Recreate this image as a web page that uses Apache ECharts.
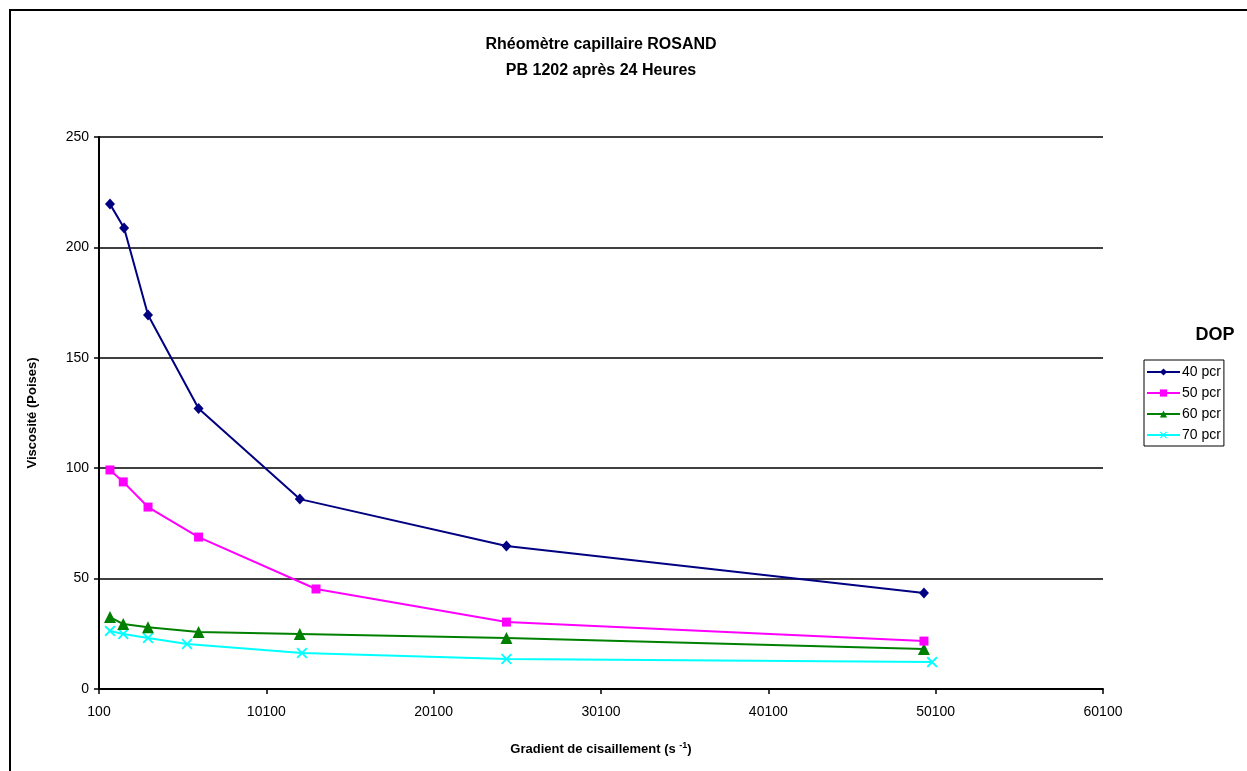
<!DOCTYPE html>
<html>
<head>
<meta charset="utf-8">
<script src="https://cdn.jsdelivr.net/npm/echarts@6/dist/echarts.min.js"></script>
<style>
html,body{margin:0;padding:0;background:#fff;}
#chart{width:1247px;height:771px;}
</style>
</head>
<body>
<div id="chart"></div>
<script>
// Data
const seriesNames = ['40 pcr', '50 pcr', '60 pcr', '70 pcr'];
const x40 = [757, 1600, 3030, 6050, 12100, 24450, 49400];
const y40 = [219.6, 208.8, 169.4, 127, 86, 64.8, 43.5];
const x50 = [757, 1550, 3030, 6050, 13070, 24450, 49400];
const y50 = [99.2, 93.8, 82.4, 68.8, 45.3, 30.3, 21.7];
const x60 = [757, 1550, 3030, 6050, 12100, 24450, 49400];
const y60 = [32.6, 29.4, 28, 25.8, 24.9, 23.1, 18.1];
const x70 = [757, 1550, 3030, 5360, 12230, 24450, 49890];
const y70 = [26.3, 24.9, 23.1, 20.4, 16.3, 13.6, 12.2];
const colors = ['#000080', '#FF00FF', '#008000', '#00FFFF'];
const xMin = 100, xMax = 60100, xStep = 10000;
const yMin = 0, yMax = 250, yStep = 50;

function pairs(xs, ys) { return xs.map((x, i) => [x, ys[i]]); }

const xSymbol = 'path://M0,1.2L1.2,0L5,3.8L8.8,0L10,1.2L6.2,5L10,8.8L8.8,10L5,6.2L1.2,10L0,8.8L3.8,5Z';
const symbols = ['diamond', 'rect', 'triangle', xSymbol];
const symbolSizes = [[10, 11], 9, 12, 11];
const allData = [pairs(x40, y40), pairs(x50, y50), pairs(x60, y60), pairs(x70, y70)];

const font = '"Liberation Sans", Arial, sans-serif';
const chart = echarts.init(document.getElementById('chart'), null, {renderer: 'canvas'});
chart.setOption({
  backgroundColor: '#fff',
  animation: false,
  textStyle: {fontFamily: font},
  grid: {left: 99, right: 144, top: 137, bottom: 82, containLabel: false},
  graphic: [
    {type: 'rect', shape: {x: 10, y: 10, width: 1250, height: 780}, style: {fill: 'none', stroke: '#000', lineWidth: 2}, z: 100},
    {type: 'text', x: 601, y: 37, style: {text: 'Rhéomètre capillaire ROSAND', font: 'bold 16px ' + font, textAlign: 'center', fill: '#000'}},
    {type: 'text', x: 601, y: 63, style: {text: 'PB 1202 après 24 Heures', font: 'bold 16px ' + font, textAlign: 'center', fill: '#000'}},
    {type: 'text', x: 1215, y: 326, style: {text: 'DOP', font: 'bold 18px ' + font, textAlign: 'center', fill: '#000'}}
  ],
  legend: {
    orient: 'vertical',
    left: 1144, top: 360,
    itemWidth: 33, itemHeight: 9,
    itemGap: 7,
    padding: [5, 3, 4, 2],
    borderColor: '#000', borderWidth: 1,
    textStyle: {fontSize: 14, color: '#000', fontFamily: font, padding: [0, 0, 0, -3]},
    data: seriesNames
  },
  xAxis: {
    type: 'value', min: xMin, max: xMax, interval: xStep,
    name: '{a|Gradient de cisaillement (s }{s|-1}{a|)}',
    nameLocation: 'middle', nameGap: 52,
    nameTextStyle: {rich: {
      a: {fontSize: 13, fontWeight: 'bold', fontFamily: font, color: '#000'},
      s: {fontSize: 9, fontWeight: 'bold', fontFamily: font, color: '#000', verticalAlign: 'top', padding: [0, 0, 8, 0]}
    }},
    axisLine: {lineStyle: {color: '#000', width: 2}},
    axisTick: {show: true, length: 5, inside: false, lineStyle: {color: '#000', width: 1.5}},
    axisLabel: {fontSize: 14, color: '#000', margin: 16, fontFamily: font, formatter: v => String(v)},
    splitLine: {show: false}
  },
  yAxis: {
    type: 'value', min: yMin, max: yMax, interval: yStep,
    name: 'Viscosité (Poises)',
    nameLocation: 'middle', nameGap: 60,
    nameTextStyle: {fontSize: 13, fontWeight: 'bold', color: '#000', fontFamily: font},
    axisLine: {show: true, lineStyle: {color: '#000', width: 2}},
    axisTick: {show: true, length: 5, inside: false, lineStyle: {color: '#000', width: 1.5}},
    axisLabel: {fontSize: 14, color: '#000', margin: 10, fontFamily: font},
    splitLine: {show: true, lineStyle: {color: '#000', width: 1.5}}
  },
  series: seriesNames.map((n, i) => ({
    name: n,
    type: 'line',
    data: allData[i],
    symbol: symbols[i],
    symbolSize: symbolSizes[i],
    showAllSymbol: true,
    lineStyle: {color: colors[i], width: 2},
    itemStyle: {color: colors[i], borderWidth: 0},
    z: 10 - i
  }))
});
</script>
</body>
</html>
